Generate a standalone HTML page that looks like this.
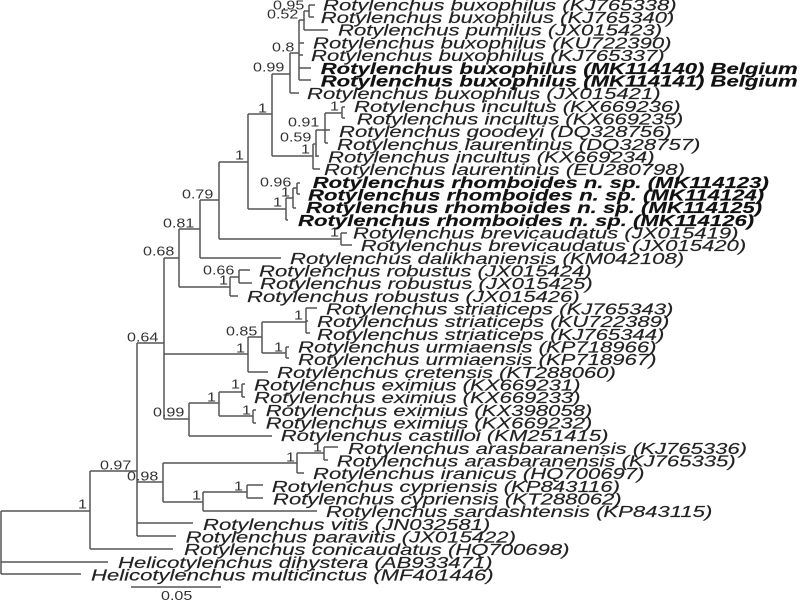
<!DOCTYPE html>
<html>
<head>
<meta charset="utf-8">
<style>
html,body{margin:0;padding:0;background:#fff;width:800px;height:600px;overflow:hidden}
svg{display:block;filter:blur(.35px)}
.t text{font-family:"Liberation Sans",sans-serif;font-size:16px;font-style:italic;fill:#222;stroke:#222;stroke-width:.15}
.t text.b{font-weight:bold;fill:#111;stroke:#111}
.n text{font-family:"Liberation Sans",sans-serif;font-size:12.5px;fill:#333}
</style>
</head>
<body>
<svg width="800" height="600" viewBox="0 0 800 600" xmlns="http://www.w3.org/2000/svg">
<rect width="800" height="600" fill="#fff"/>
<path fill="none" stroke="#555" stroke-width="1.5" d="
M309 5V17M309 5H315M309 17H314
M304 11V30M304 11H309M304 30H328
M299 20V80M299 20H304M299 43H304M299 55H303M299 68H311M299 80H311
M290 53V93M290 53H299M290 93H299
M272 74V156M272 74H290M272 156H313
M313 144V169M313 169H320M313 144H316
M316 130V157M316 156H319M316 130H325
M325 113V143M325 130H330M325 143H328M325 113H342
M342 107V118M342 107H345M342 118H345
M248 114V209M248 114H272M248 209H286
M286 198V220M286 220H288M286 198H293
M293 188V208M293 208H296M293 188H297
M297 183V194M297 183H300M297 194H300
M219 162V239M219 162H248M219 239H341
M341 233V245M341 233H347M341 245H352
M200 200V258M200 200H219M200 258H281
M179 229V287M179 229H200M179 287H230
M230 277V296M230 296H238M230 277H239
M239 270V283M239 270H250M239 283H252
M164 258V419M164 258H179M164 354H248
M248 337V372M248 337H262M248 372H268
M262 322V353M262 322H306M262 353H286
M306 308V333M306 308H317M306 321H308M306 333H310
M286 347V358M286 347H289M286 358H289
M164 419H189M189 403V436M189 436H272M189 403H219
M219 392V416M219 392H242M219 416H253
M242 384V397M242 384H245M242 397H245
M253 410V423M253 410H256M253 423H256
M137 343V536M137 343H164M137 482H163
M163 463V502M163 463H297M163 502H203
M297 453V473M297 473H304M297 453H324
M324 447V460M324 447H338M324 460H328
M203 492V511M203 511H317M203 492H247
M247 485V498M247 485H263M247 498H263
M137 523H193M137 536H176
M90 471V549M90 471H137M90 549H173
M1 511V574M1 511H90M1 562H108M1 574H81
M131 587H221"/>
<g class="t">
<text transform="translate(323,10.4) scale(1.381,1)">Rotylenchus buxophilus (KJ765338)</text>
<text transform="translate(320.7,23.1) scale(1.381,1)">Rotylenchus buxophilus (KJ765340)</text>
<text transform="translate(338,35.7) scale(1.381,1)">Rotylenchus pumilus (JX015423)</text>
<text transform="translate(313,48.4) scale(1.381,1)">Rotylenchus buxophilus (KU722390)</text>
<text transform="translate(311,61.1) scale(1.381,1)">Rotylenchus buxophilus (KJ765337)</text>
<text class="b" transform="translate(320.7,73.8) scale(1.381,1)">Rotylenchus buxophilus (MK114140) Belgium</text>
<text class="b" transform="translate(320.7,86.4) scale(1.381,1)">Rotylenchus buxophilus (MK114141) Belgium</text>
<text transform="translate(307,99.1) scale(1.381,1)">Rotylenchus buxophilus (JX015421)</text>
<text transform="translate(354,111.8) scale(1.381,1)">Rotylenchus incultus (KX669236)</text>
<text transform="translate(356.7,124.4) scale(1.381,1)">Rotylenchus incultus (KX669235)</text>
<text transform="translate(339,137.1) scale(1.381,1)">Rotylenchus goodeyi (DQ328756)</text>
<text transform="translate(337,149.8) scale(1.381,1)">Rotylenchus laurentinus (DQ328757)</text>
<text transform="translate(328,162.4) scale(1.381,1)">Rotylenchus incultus (KX669234)</text>
<text transform="translate(324,175.1) scale(1.381,1)">Rotylenchus laurentinus (EU280798)</text>
<text class="b" transform="translate(312.7,187.8) scale(1.381,1)">Rotylenchus rhomboides n. sp. (MK114123)</text>
<text class="b" transform="translate(308,200.4) scale(1.381,1)">Rotylenchus rhomboides n. sp. (MK114124)</text>
<text class="b" transform="translate(306,213.1) scale(1.381,1)">Rotylenchus rhomboides n. sp. (MK114125)</text>
<text class="b" transform="translate(298,225.8) scale(1.381,1)">Rotylenchus rhomboides n. sp. (MK114126)</text>
<text transform="translate(353,238.4) scale(1.381,1)">Rotylenchus brevicaudatus (JX015419)</text>
<text transform="translate(360.7,251.1) scale(1.381,1)">Rotylenchus brevicaudatus (JX015420)</text>
<text transform="translate(290,263.8) scale(1.381,1)">Rotylenchus dalikhaniensis (KM042108)</text>
<text transform="translate(259,276.4) scale(1.381,1)">Rotylenchus robustus (JX015424)</text>
<text transform="translate(260,289.1) scale(1.381,1)">Rotylenchus robustus (JX015425)</text>
<text transform="translate(247,301.8) scale(1.381,1)">Rotylenchus robustus (JX015426)</text>
<text transform="translate(326,314.4) scale(1.381,1)">Rotylenchus striaticeps (KJ765343)</text>
<text transform="translate(317,327.2) scale(1.381,1)">Rotylenchus striaticeps (KU722389)</text>
<text transform="translate(317,339.8) scale(1.381,1)">Rotylenchus striaticeps (KJ765344)</text>
<text transform="translate(298,352.4) scale(1.381,1)">Rotylenchus urmiaensis (KP718966)</text>
<text transform="translate(298,365.2) scale(1.381,1)">Rotylenchus urmiaensis (KP718967)</text>
<text transform="translate(277,377.8) scale(1.381,1)">Rotylenchus cretensis (KT288060)</text>
<text transform="translate(254,390.4) scale(1.381,1)">Rotylenchus eximius (KX669231)</text>
<text transform="translate(254,403.2) scale(1.381,1)">Rotylenchus eximius (KX669233)</text>
<text transform="translate(265.7,415.8) scale(1.381,1)">Rotylenchus eximius (KX398058)</text>
<text transform="translate(265.7,428.4) scale(1.381,1)">Rotylenchus eximius (KX669232)</text>
<text transform="translate(280.7,441.2) scale(1.381,1)">Rotylenchus castilloi (KM251415)</text>
<text transform="translate(348,453.9) scale(1.381,1)">Rotylenchus arasbaranensis (KJ765336)</text>
<text transform="translate(336.7,466.4) scale(1.381,1)">Rotylenchus arasbaranensis (KJ765335)</text>
<text transform="translate(313,479.2) scale(1.381,1)">Rotylenchus iranicus (HQ700697)</text>
<text transform="translate(271.7,491.9) scale(1.381,1)">Rotylenchus cypriensis (KP843116)</text>
<text transform="translate(273,504.4) scale(1.381,1)">Rotylenchus cypriensis (KT288062)</text>
<text transform="translate(326,517.2) scale(1.381,1)">Rotylenchus sardashtensis (KP843115)</text>
<text transform="translate(203,529.9) scale(1.381,1)">Rotylenchus vitis (JN032581)</text>
<text transform="translate(185.7,542.4) scale(1.381,1)">Rotylenchus paravitis (JX015422)</text>
<text transform="translate(184,555.2) scale(1.381,1)">Rotylenchus conicaudatus (HQ700698)</text>
<text transform="translate(118,567.9) scale(1.381,1)">Helicotylenchus dihystera (AB933471)</text>
<text transform="translate(91,580.4) scale(1.381,1)">Helicotylenchus multicinctus (MF401446)</text>
</g>
<g class="n">
<text transform="translate(273,9.5) scale(1.29,1)">0.95</text>
<text transform="translate(267,18.5) scale(1.29,1)">0.52</text>
<text transform="translate(272,51.5) scale(1.29,1)">0.8</text>
<text transform="translate(253,71.5) scale(1.29,1)">0.99</text>
<text transform="translate(258,112.5) scale(1.29,1)">1</text>
<text transform="translate(330,110.5) scale(1.29,1)">1</text>
<text transform="translate(288,126.5) scale(1.29,1)">0.91</text>
<text transform="translate(280,141.5) scale(1.29,1)">0.59</text>
<text transform="translate(301,153.5) scale(1.29,1)">1</text>
<text transform="translate(235,159.5) scale(1.29,1)">1</text>
<text transform="translate(260,186.5) scale(1.29,1)">0.96</text>
<text transform="translate(281,196.5) scale(1.29,1)">1</text>
<text transform="translate(273,206.5) scale(1.29,1)">1</text>
<text transform="translate(182,198.5) scale(1.29,1)">0.79</text>
<text transform="translate(330,236.5) scale(1.29,1)">1</text>
<text transform="translate(163,227.5) scale(1.29,1)">0.81</text>
<text transform="translate(143,255.5) scale(1.29,1)">0.68</text>
<text transform="translate(203,274.5) scale(1.29,1)">0.66</text>
<text transform="translate(219,284.5) scale(1.29,1)">1</text>
<text transform="translate(294,319.5) scale(1.29,1)">1</text>
<text transform="translate(226,335.5) scale(1.29,1)">0.85</text>
<text transform="translate(274,351.5) scale(1.29,1)">1</text>
<text transform="translate(236,352.5) scale(1.29,1)">1</text>
<text transform="translate(127,341.5) scale(1.29,1)">0.64</text>
<text transform="translate(231,388.5) scale(1.29,1)">1</text>
<text transform="translate(207,401.5) scale(1.29,1)">1</text>
<text transform="translate(242,414.5) scale(1.29,1)">1</text>
<text transform="translate(153,416.5) scale(1.29,1)">0.99</text>
<text transform="translate(286,461.5) scale(1.29,1)">1</text>
<text transform="translate(313,451.5) scale(1.29,1)">1</text>
<text transform="translate(127,480.5) scale(1.29,1)">0.98</text>
<text transform="translate(100,469.5) scale(1.29,1)">0.97</text>
<text transform="translate(78,508.5) scale(1.29,1)">1</text>
<text transform="translate(234,490.5) scale(1.29,1)">1</text>
<text transform="translate(192,499.5) scale(1.29,1)">1</text>
<text transform="translate(161,600) scale(1.29,1)">0.05</text>
</g>
</svg>
</body>
</html>
